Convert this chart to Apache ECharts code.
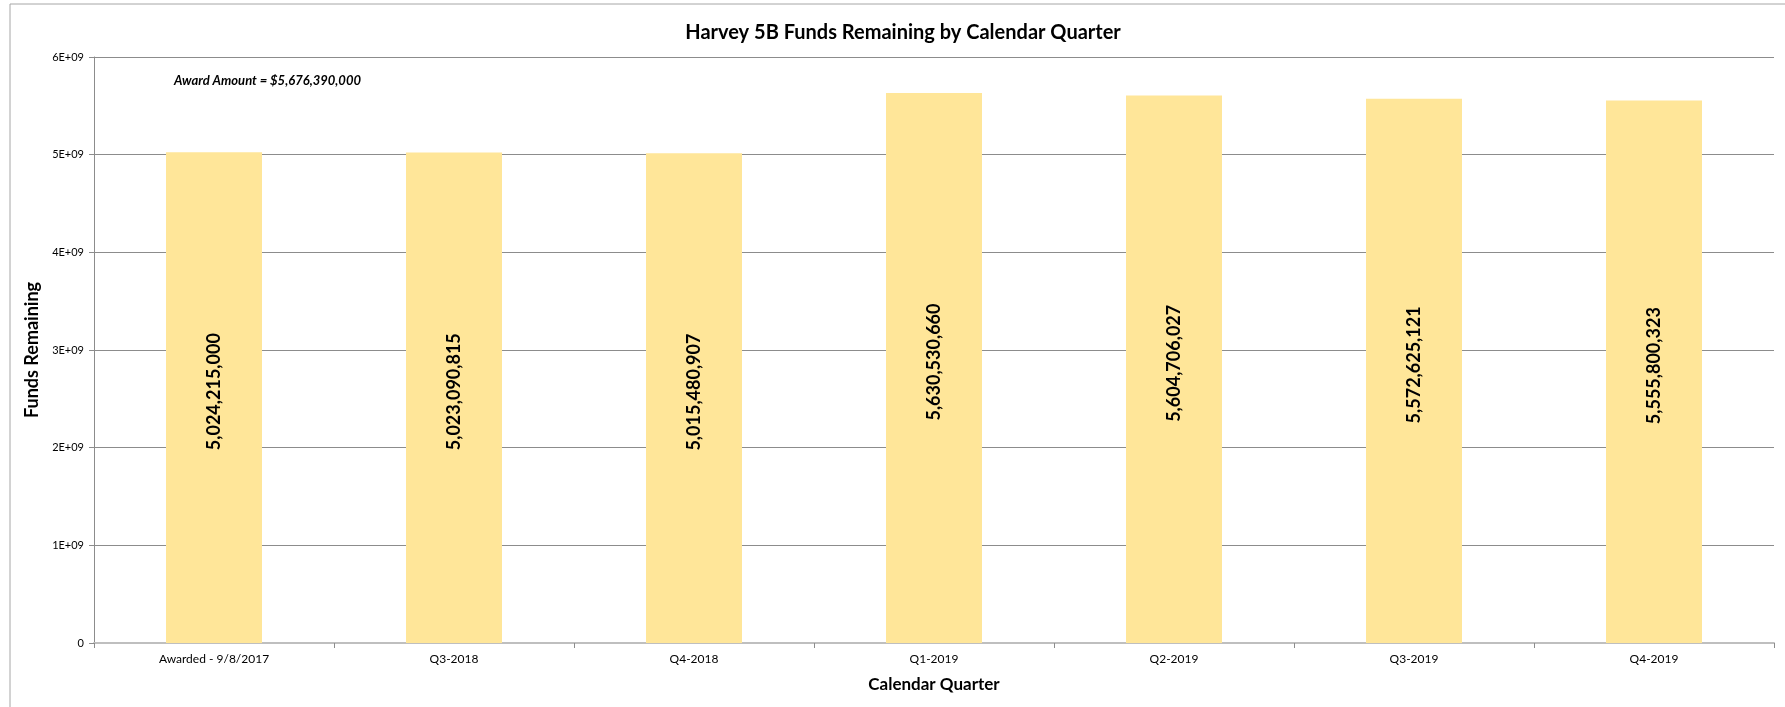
<!DOCTYPE html>
<html>
<head>
<meta charset="utf-8">
<script src="https://cdn.jsdelivr.net/npm/echarts@6/dist/echarts.min.js"></script>
<style>
html,body{margin:0;padding:0;background:#fff;}
#chart{width:1785px;height:707px;}
</style>
</head>
<body>
<div id="chart"></div>
<script>
const categories = ['Awarded - 9/8/2017','Q3-2018','Q4-2018','Q1-2019','Q2-2019','Q3-2019','Q4-2019'];
const fundsRemaining = [5024215000, 5023090815, 5015480907, 5630530660, 5604706027, 5572625121, 5555800323];
const yTicks = {min: 0, max: 6e9, interval: 1e9};
const titleText = 'Harvey 5B Funds Remaining by Calendar Quarter';
const annotationText = 'Award Amount = $5,676,390,000';

const FONT = 'Lato';
const chart = echarts.init(document.getElementById('chart'));
chart.setOption({
  animation: false,
  backgroundColor: '#fff',
  textStyle: {fontFamily: FONT},
  title: {
    text: titleText,
    left: 898, top: 18, textAlign: 'center',
    textStyle: {fontFamily: FONT, fontWeight: 'bold', fontSize: 20, color: '#000'}
  },
  graphic: [
    {type: 'rect', silent: true, shape: {x: 10, y: 4, width: 1800, height: 760},
     style: {fill: 'none', stroke: '#a6a6a6', lineWidth: 1}},
    {type: 'text', left: 174, top: 74, silent: true,
     style: {text: annotationText, fontFamily: FONT, fontStyle: 'italic', fontWeight: 'bold', fontSize: 13, fill: '#000'}}
  ],
  grid: {left: 94, right: 11, top: 57, bottom: 64, containLabel: false},
  xAxis: {
    type: 'category',
    data: categories,
    name: 'Calendar Quarter',
    nameLocation: 'middle',
    nameGap: 33,
    nameTextStyle: {fontFamily: FONT, fontWeight: 'bold', fontSize: 17, color: '#000'},
    axisLine: {lineStyle: {color: '#bfbfbf', width: 2}},
    axisTick: {show: true, alignWithLabel: false, length: 5, lineStyle: {color: '#8c8c8c'}},
    axisLabel: {fontFamily: FONT, fontSize: 12, color: '#000', margin: 10}
  },
  yAxis: {
    type: 'value',
    min: yTicks.min, max: yTicks.max, interval: yTicks.interval,
    name: 'Funds Remaining',
    nameLocation: 'middle',
    nameGap: 48,
    nameTextStyle: {fontFamily: FONT, fontWeight: 'bold', fontSize: 18, color: '#000'},
    axisLine: {show: true, lineStyle: {color: '#8c8c8c', width: 1}},
    axisTick: {show: true, length: 5, lineStyle: {color: '#8c8c8c'}},
    axisLabel: {fontFamily: FONT, fontSize: 11, color: '#000', margin: 10,
      formatter: v => v === 0 ? '0' : (v / 1e9) + 'E+09'},
    splitLine: {show: true, lineStyle: {color: '#8c8c8c', width: 1}}
  },
  series: [{
    type: 'bar',
    data: fundsRemaining,
    barWidth: '40%',
    itemStyle: {color: '#FFE699'},
    label: {
      show: true, position: 'inside', rotate: 90, offset: [6, 0],
      fontFamily: FONT, fontWeight: 'bold', fontSize: 18, color: '#000',
      formatter: p => p.value.toLocaleString('en-US')
    }
  }]
});
</script>
</body>
</html>
